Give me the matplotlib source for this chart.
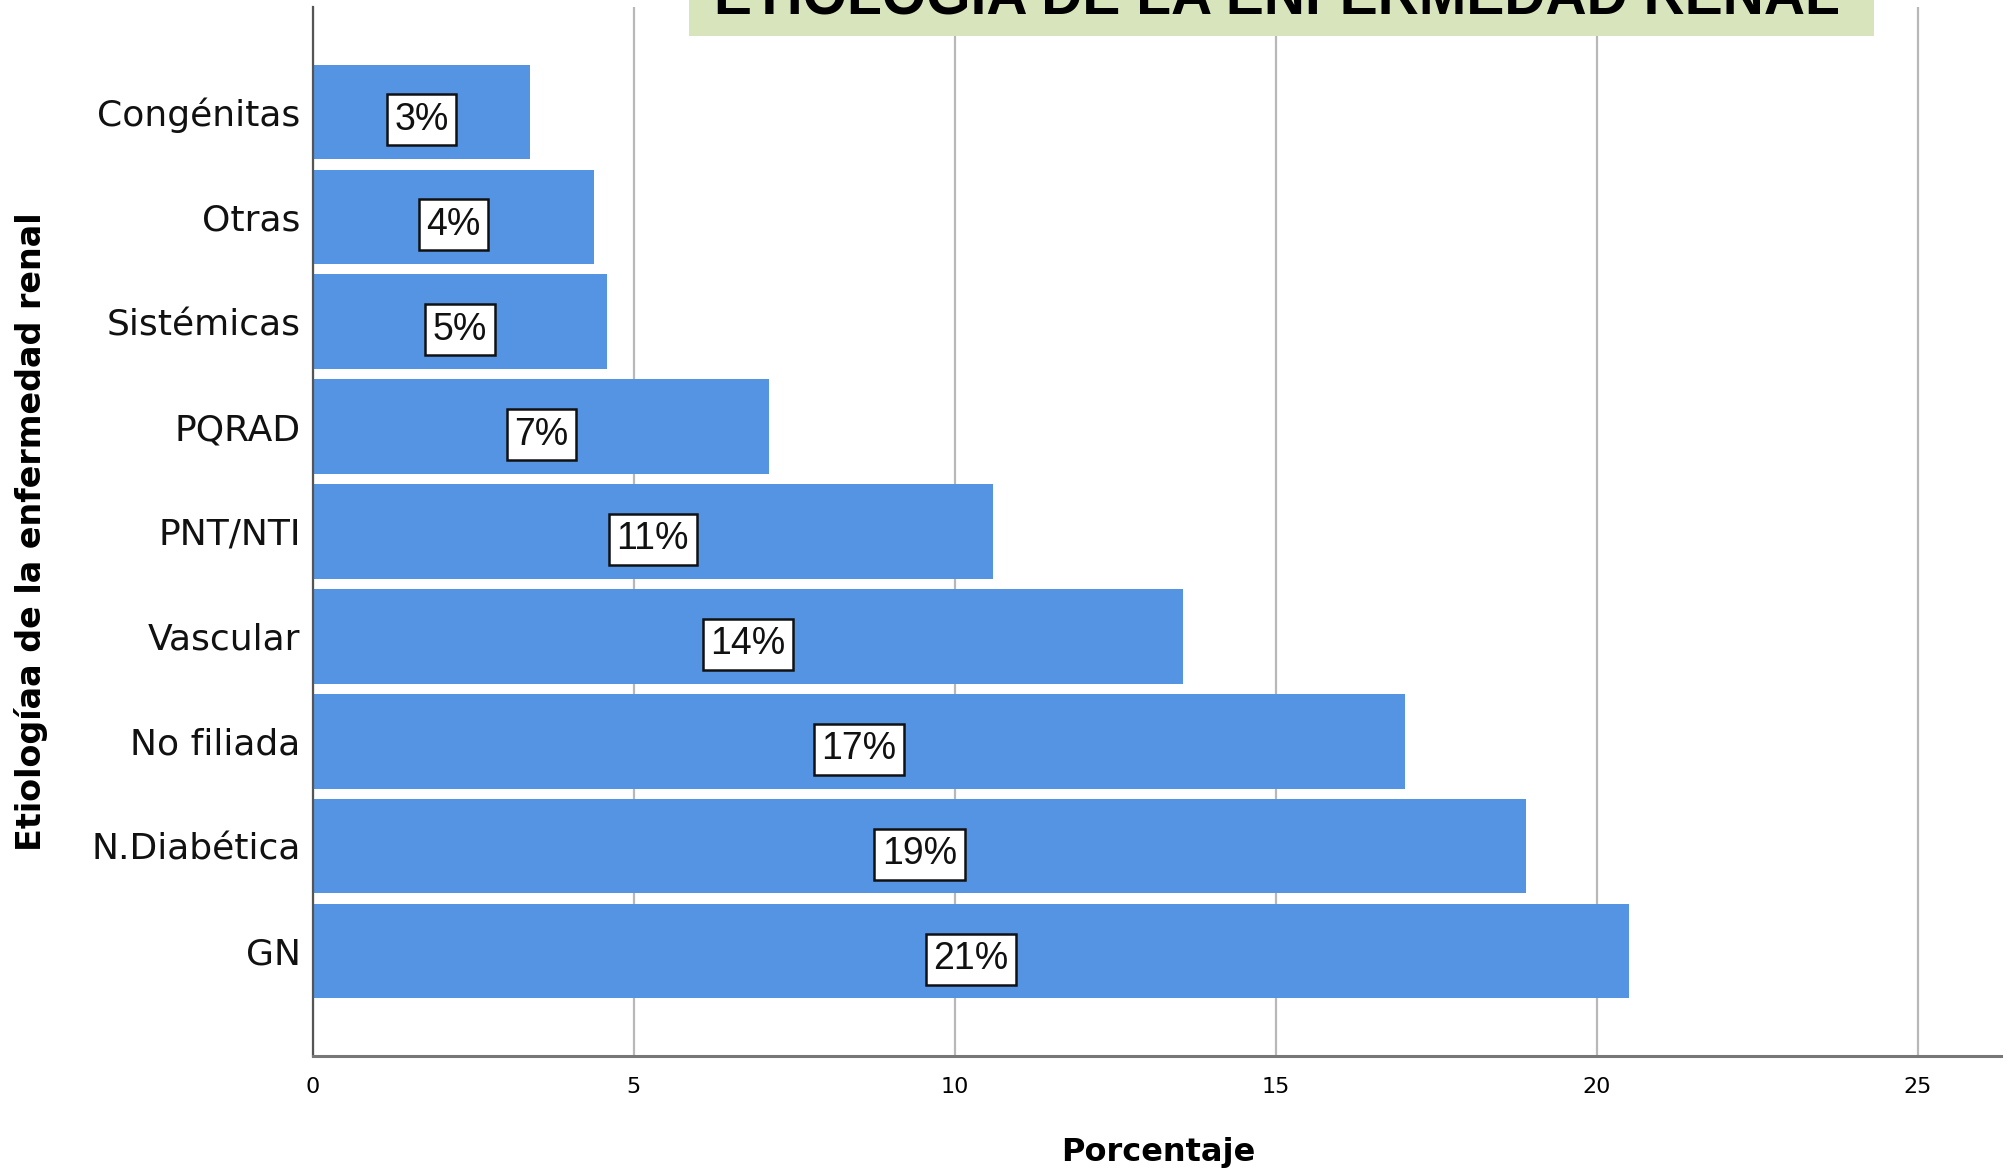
import matplotlib
matplotlib.use("Agg")
import matplotlib.pyplot as plt
from matplotlib.patches import Rectangle
from matplotlib.transforms import ScaledTranslation

categories = ["GN", "N.Diabética", "No filiada", "Vascular", "PNT/NTI",
              "PQRAD", "Sistémicas", "Otras", "Congénitas"]
values = [20.50, 18.90, 17.01, 13.55, 10.59, 7.11, 4.58, 4.38, 3.38]
labels = ["21%", "19%", "17%", "14%", "11%", "7%", "5%", "4%", "3%"]
xticks = [0, 5, 10, 15, 20, 25]

W, H = 2011, 1173
fig = plt.figure(figsize=(W / 100, H / 100), dpi=100)
fig.patch.set_facecolor("white")

left, right, top, bottom = 313, 2001, 7, 1056
ax = fig.add_axes([left / W, 1 - bottom / H, (right - left) / W, (bottom - top) / H])

pos = list(range(len(categories)))
ax.barh(pos, values, height=0.9, color="#5594E2", zorder=2)
shift = ScaledTranslation(0, -4 / 100, fig.dpi_scale_trans)
for p, v, lab in zip(pos, values, labels):
    ax.text(v / 2, p, lab, ha="center", va="center_baseline", fontsize=27,
            family=["Liberation Sans", "DejaVu Sans"], color="#111111", zorder=4,
            transform=ax.transData + shift,
            bbox=dict(boxstyle="square,pad=0.2", facecolor="white",
                      edgecolor="#111111", linewidth=1.8))

ax.set_xlim(0, 26.3)
ax.set_ylim(-1, 9)
ax.set_yticks(pos)
ax.set_yticklabels(categories, fontsize=26, family="DejaVu Sans", color="#111111",
                   va="center_baseline")
for t in ax.get_yticklabels():
    t.set_transform(t.get_transform() + shift)
ax.set_xticks(xticks)
ax.set_xticklabels([str(t) for t in xticks], fontsize=16, family="DejaVu Sans")
ax.tick_params(axis="both", length=0)
ax.tick_params(axis="y", pad=9)
ax.tick_params(axis="x", pad=15)
ax.xaxis.grid(True, color="#b8b8b8", linewidth=1.6, zorder=0)
ax.set_axisbelow(True)
for s in ["top", "right"]:
    ax.spines[s].set_visible(False)
ax.spines["left"].set_color("#555555")
ax.spines["left"].set_linewidth(1.6)
ax.spines["bottom"].set_color("#777777")
ax.spines["bottom"].set_linewidth(2.2)

fig.text(31 / W, 1 - 532 / H, "Etiologíaa de la enfermedad renal", rotation=90,
         ha="center", va="center", fontsize=24, fontweight="bold", family="DejaVu Sans")
fig.text(1158 / W, 1 - 1153 / H, "Porcentaje", ha="center", va="center",
         fontsize=23, fontweight="bold", family="DejaVu Sans")

# title box (partially cut at top, as in the reference)
fig.patches.append(Rectangle((689 / W, 1 - 36 / H), (1874 - 689) / W, 36 / H + 0.01,
                             transform=fig.transFigure, facecolor="#D8E4BC",
                             edgecolor="none", zorder=5))
fig.text(1277 / W, 1 - 13 / H, "ETIOLOGÍA DE LA ENFERMEDAD RENAL", ha="center",
         va="baseline", fontsize=41, fontweight="bold",
         family=["Liberation Sans", "DejaVu Sans"], color="black", zorder=6)

fig.savefig("out.png", dpi=100)
